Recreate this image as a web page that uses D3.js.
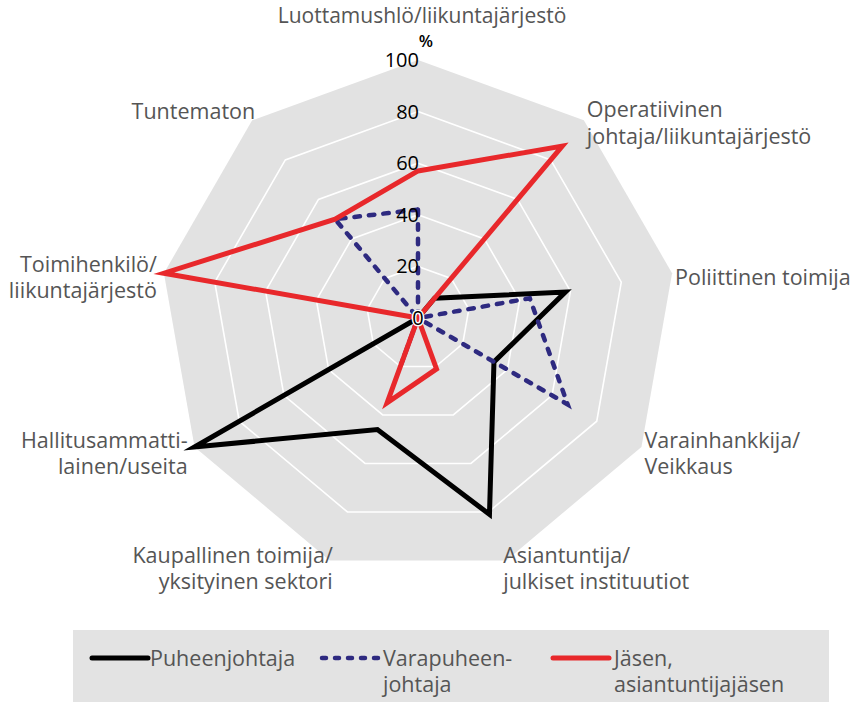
<!DOCTYPE html>
<html>
<head>
<meta charset="utf-8">
<script src="https://cdn.jsdelivr.net/npm/d3@7"></script>
<style>
	body { margin: 0; background: #fff; }
	text { font-family: 'Open Sans', sans-serif; }
</style>
</head>
<body>
<div id="chart"></div>
<script>
// axis labels, clockwise from the top
const axes = [
	[ 'Luottamushlö/liikuntajärjestö' ],
	[ 'Operatiivinen', 'johtaja/liikuntajärjestö' ],
	[ 'Poliittinen toimija' ],
	[ 'Varainhankkija/', 'Veikkaus' ],
	[ 'Asiantuntija/', 'julkiset instituutiot' ],
	[ 'Kaupallinen toimija/', 'yksityinen sektori' ],
	[ 'Hallitusammatti-', 'lainen/useita' ],
	[ 'Toimihenkilö/', 'liikuntajärjestö' ],
	[ 'Tuntematon' ]
];

const ticks = [ 0, 20, 40, 60, 80, 100 ];

// percentages per axis
const puheenjohtaja = [ 0, 10, 58, 34, 81, 46, 100, 0, 0 ];
const varapuheenjohtaja = [ 42, 0, 44, 67, 0, 19, 0, 0, 50 ];
const jasen = [ 57, 87, 0, 0, 21, 35, 0, 100, 50 ];

const seriesNames = [ [ 'Puheenjohtaja' ], [ 'Varapuheen-', 'johtaja' ], [ 'Jäsen,', 'asiantuntijajäsen' ] ];

const width = 857,
	height = 702;
const cx = 418,
	cy = 318,
	R = 258;
const fs = 21.5,
	lh = 26.5;

const svg = d3.select('#chart').append('svg').attr('width', width).attr('height', height);

const r = d3.scaleLinear().domain([ 0, 100 ]).range([ 0, R ]);
const angle = (i) => i * 2 * Math.PI / axes.length;

const line = d3.lineRadial().angle((d, i) => angle(i)).radius((d) => r(d)).curve(d3.curveLinearClosed);

const g = svg.append('g').attr('transform', `translate(${cx},${cy})`);

// grey background and white rings
g
	.append('path')
	.attr('d', line(axes.map(() => 100)))
	.attr('fill', '#e2e2e2');

g
	.selectAll('.ring')
	.data(ticks.filter((t) => t > 0 && t < 100))
	.enter()
	.append('path')
	.attr('class', 'ring')
	.attr('d', (t) => line(axes.map(() => t)))
	.attr('fill', 'none')
	.attr('stroke', '#fff')
	.attr('stroke-width', 1.6);

// series
const series = [
	{ values: puheenjohtaja, color: '#000000', dash: null },
	{ values: varapuheenjohtaja, color: '#2e2a80', dash: '5.5,9' },
	{ values: jasen, color: '#e8282b', dash: null }
];

g
	.selectAll('.series')
	.data(series)
	.enter()
	.append('path')
	.attr('class', 'series')
	.attr('d', (s) => line(s.values))
	.attr('fill', 'none')
	.attr('stroke', (s) => s.color)
	.attr('stroke-width', (s) => (s.dash ? 4.5 : 5))
	.attr('stroke-dasharray', (s) => s.dash)
	.attr('stroke-linecap', (s) => (s.dash ? 'round' : 'butt'))
	.attr('stroke-linejoin', 'miter')
	.attr('stroke-miterlimit', 10);

// tick labels along the top axis
g
	.selectAll('.tick')
	.data(ticks)
	.enter()
	.append('text')
	.attr('class', 'tick')
	.attr('x', (t) => (t === 0 ? 0 : 1))
	.attr('y', (t) => -r(t))
	.attr('dy', '0.35em')
	.attr('text-anchor', (t) => (t === 0 ? 'middle' : 'end'))
	.attr('font-size', 20)
	.attr('fill', '#000')
	.attr('stroke', (t) => (t === 0 ? '#fff' : 'none'))
	.attr('stroke-width', 3)
	.attr('paint-order', 'stroke')
	.text((t) => t);

g.append('text').attr('x', 8).attr('y', 46.5 - cy).attr('text-anchor', 'middle').attr('font-size', 16.5).attr('font-weight', 600).text('%');

// axis labels
axes.forEach((lines, i) => {
	const a = angle(i),
		s = Math.sin(a),
		c = Math.cos(a);
	const vx = R * s,
		vy = -R * c;
	let x, anchor, yc;
	if (i === 0) {
		x = 4;
		anchor = 'middle';
		yc = 15.5 - cy;
	} else {
		anchor = s > 0 ? 'start' : 'end';
		if (s > 0) x = vx + (Math.abs(c) > 0.9 ? -3 : 3);
		else x = vx + (Math.abs(s) > 0.8 ? -7 : 3);
		yc = vy + 5 - 3 * c + (lines.length === 1 && c > 0.5 ? -12 : 0);
	}
	const t = g
		.append('text')
		.attr('text-anchor', anchor)
		.attr('font-size', i === 0 ? 21 : fs)
		.attr('fill', '#555');
	lines.forEach((l, k) => {
		t.append('tspan').attr('x', x).attr('y', yc + (k - (lines.length - 1) / 2) * lh).attr('dy', '0.35em').text(l);
	});
});

// legend
const legend = svg.append('g');
legend.append('rect').attr('x', 73).attr('y', 630).attr('width', 756).attr('height', 80).attr('fill', '#e3e3e3');

const lx = d3.scaleOrdinal().domain([ 0, 1, 2 ]).range([ 92, 322, 553 ]);
series.forEach((s, i) => {
	legend
		.append('line')
		.attr('x1', lx(i))
		.attr('x2', lx(i) + 56)
		.attr('y1', 658)
		.attr('y2', 658)
		.attr('stroke', s.color)
		.attr('stroke-width', s.dash ? 4.5 : 5)
		.attr('stroke-dasharray', s.dash ? '4,9' : null)
		.attr('stroke-linecap', 'round');
	const t = legend.append('text').attr('font-size', fs).attr('fill', '#555');
	seriesNames[i].forEach((l, k) => {
		t.append('tspan').attr('x', lx(i) + 58 + (i === 0 ? 0 : 3)).attr('y', 658 + k * lh).attr('dy', '0.35em').text(l);
	});
});
</script>
</body>
</html>
